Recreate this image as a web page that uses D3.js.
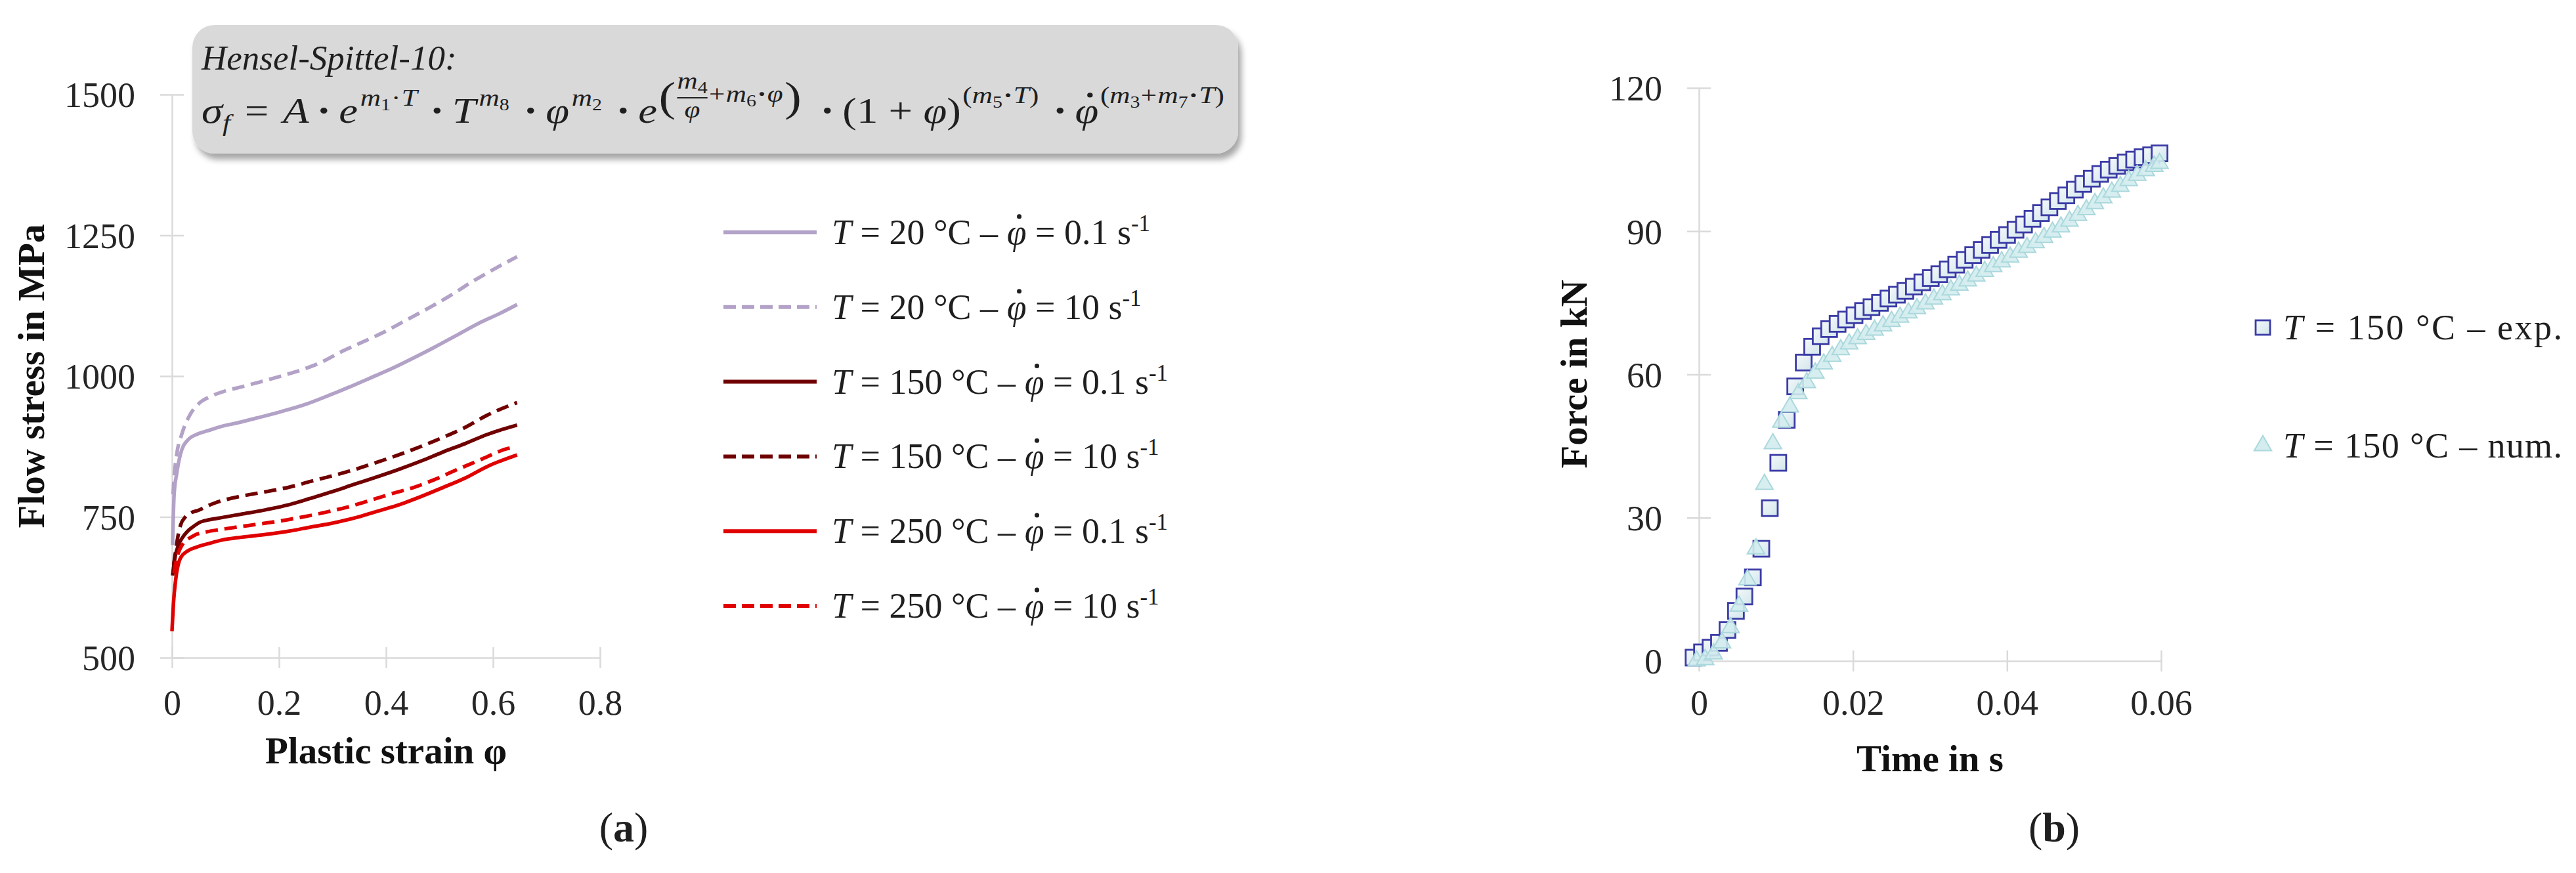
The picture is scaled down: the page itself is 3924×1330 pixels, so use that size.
<!DOCTYPE html>
<html>
<head>
<meta charset="utf-8">
<title>Hensel-Spittel flow curves and forming force</title>
<script src="https://d3js.org/d3.v7.min.js"></script>
<style>
  body { margin: 0; background: #fff; }
  svg { display: block; }
  text { font-family: "Liberation Serif", "Times New Roman", serif; fill: #1f1f1f; }
  .tick text { font-size: 54px; fill: #262626; }
  .axis-title { font-size: 57px; font-weight: bold; fill: #111; }
  .legend text { font-size: 54px; }
</style>
</head>
<body>
<svg width="3924" height="1330"></svg>
<script>
// --- (a) flow curves ---
const strainTicks = [0, 0.2, 0.4, 0.6, 0.8];
const stressTicks = [500, 750, 1000, 1250, 1500];
const legendTemps = ["20", "20", "150", "150", "250", "250"];
const legendRates = ["0.1", "10", "0.1", "10", "0.1", "10"];

// [plastic strain, flow stress in MPa]
const curve20slow = [[0.001,700],[0.004,790],[0.009,828],[0.016,862],[0.029,886],[0.05,898],[0.067,903],[0.09,910],[0.122,917],[0.16,926],[0.204,937],[0.25,950],[0.286,963],[0.33,980],[0.369,996],[0.41,1013],[0.451,1032],[0.49,1051],[0.533,1073],[0.58,1097],[0.61,1110],[0.645,1127]];
const curve20fast = [[0.002,790],[0.004,820],[0.009,862],[0.018,896],[0.034,932],[0.051,952],[0.07,963],[0.094,972],[0.13,981],[0.166,990],[0.2,999],[0.242,1011],[0.28,1025],[0.314,1042],[0.355,1060],[0.396,1078],[0.437,1099],[0.478,1120],[0.52,1143],[0.56,1167],[0.6,1189],[0.645,1212]];
const curve150slow = [[0.001,646],[0.006,680],[0.012,700],[0.02,714],[0.0285,724],[0.04,733],[0.051,740],[0.07,745],[0.094,749],[0.13,755],[0.177,763],[0.22,772],[0.259,783],[0.3,795],[0.341,808],[0.38,820],[0.423,834],[0.465,849],[0.506,865],[0.55,881],[0.588,896],[0.645,913]];
const curve150fast = [[0.003,665],[0.0066,688],[0.011,715],[0.0159,735],[0.025,750],[0.035,757],[0.05,762],[0.07,771],[0.094,779],[0.13,787],[0.177,795],[0.22,803],[0.259,813],[0.3,823],[0.341,834],[0.38,846],[0.423,860],[0.465,875],[0.506,891],[0.55,910],[0.588,930],[0.645,953]];
const curve250slow = [[0.0,547],[0.003,600],[0.0066,636],[0.0159,677],[0.03,690],[0.045,696],[0.07,703],[0.094,709],[0.13,714],[0.177,719],[0.22,725],[0.259,732],[0.3,739],[0.341,748],[0.38,759],[0.423,771],[0.465,786],[0.506,802],[0.55,820],[0.588,839],[0.645,860]];
const curve250fast = [[0.004,650],[0.008,672],[0.0176,698],[0.0395,716],[0.067,724],[0.094,728],[0.122,732],[0.16,737],[0.204,743],[0.245,750],[0.286,758],[0.33,768],[0.369,779],[0.41,791],[0.451,802],[0.49,816],[0.533,834],[0.58,853],[0.626,871],[0.64,874]];
const flowCurves = [curve20slow, curve20fast, curve150slow, curve150fast, curve250slow, curve250fast];

const curveColor = ["#b3a2c7", "#b3a2c7", "#700000", "#700000", "#e00000", "#e00000"];
const curveDash = [null, "19,10", null, "19,10", null, "19,10"];

// --- (b) force over time ---
const timeTicks = [0, 0.02, 0.04, 0.06];
const forceTicks = [0, 30, 60, 90, 120];
const timeExp = [-0.0007,0.0004,0.0015,0.0026,0.0037,0.0048,0.0059,0.0070,0.0081,0.0092,0.0103,0.0114,0.0125,0.0136,0.0147,0.0158,0.0169,0.0180,0.0191,0.0202,0.0213,0.0224,0.0235,0.0246,0.0257,0.0268,0.0279,0.0290,0.0301,0.0312,0.0323,0.0334,0.0345,0.0356,0.0367,0.0378,0.0389,0.0400,0.0411,0.0422,0.0433,0.0444,0.0455,0.0466,0.0477,0.0488,0.0499,0.0510,0.0521,0.0532,0.0543,0.0554,0.0565,0.0576,0.0587,0.0598];
const forceExp = [0.7,1.8,2.8,3.8,6.5,10.5,13.5,17.5,23.5,32.0,41.5,50.5,57.5,62.5,65.8,68.0,69.5,70.6,71.5,72.4,73.3,74.1,75.0,75.9,76.7,77.5,78.4,79.3,80.2,81.0,82.0,83.0,84.0,85.0,86.1,87.1,88.2,89.2,90.3,91.4,92.6,93.8,95.0,96.3,97.5,98.7,99.9,101.0,102.0,102.9,103.7,104.4,105.0,105.5,105.9,106.3];
const timeNum = [-0.0003,0.0008,0.0019,0.0030,0.0041,0.0052,0.0063,0.0074,0.0085,0.0096,0.0107,0.0118,0.0129,0.0140,0.0151,0.0162,0.0173,0.0184,0.0195,0.0206,0.0217,0.0228,0.0239,0.0250,0.0261,0.0272,0.0283,0.0294,0.0305,0.0316,0.0327,0.0338,0.0349,0.0360,0.0371,0.0382,0.0393,0.0404,0.0415,0.0426,0.0437,0.0448,0.0459,0.0470,0.0481,0.0492,0.0503,0.0514,0.0525,0.0536,0.0547,0.0558,0.0569,0.0580,0.0591,0.0598];
const forceNum = [0.0,0.3,1.5,3.8,7.0,11.5,17.0,23.5,37.0,45.5,50.0,53.2,56.0,58.3,60.3,62.2,63.8,65.2,66.4,67.5,68.4,69.3,70.2,71.1,72.0,72.9,73.8,74.8,75.8,76.7,77.7,78.7,79.6,80.6,81.6,82.6,83.6,84.6,85.6,86.6,87.6,88.7,89.8,90.9,92.1,93.3,94.5,95.8,97.0,98.2,99.4,100.6,101.7,102.7,103.6,104.2];

const svg = d3.select("svg");
svg.append("rect").attr("width", 3924).attr("height", 1330).attr("fill", "#fff");

const defs = svg.append("defs");
defs.append("filter").attr("id", "shadow").attr("x", "-5%").attr("y", "-20%").attr("width", "115%").attr("height", "150%")
  .append("feDropShadow").attr("dx", 5).attr("dy", 9).attr("stdDeviation", 5)
  .attr("flood-color", "#000").attr("flood-opacity", 0.35);
const sqGrad = defs.append("linearGradient").attr("id", "sqfill").attr("x1", 0).attr("y1", 0).attr("x2", 1).attr("y2", 1);
sqGrad.append("stop").attr("offset", "0%").attr("stop-color", "#f4f8fa");
sqGrad.append("stop").attr("offset", "100%").attr("stop-color", "#d2e6ec");

// scales
const xA = d3.scaleLinear().domain([0, 0.8]).range([262, 914]);
const yA = d3.scaleLinear().domain([500, 1500]).range([1002, 144]);
const xB = d3.scaleLinear().domain([0, 0.06]).range([2588, 3292]);
const yB = d3.scaleLinear().domain([0, 120]).range([1007, 134]);

function drawAxes(x, y, xTicks, yTicks, xFmt, labelGap) {
  const gx = svg.append("g").attr("transform", `translate(0,${y.range()[0]})`)
    .call(d3.axisBottom(x).tickValues(xTicks).tickFormat(xFmt).tickSizeOuter(0));
  const gy = svg.append("g").attr("transform", `translate(${x.range()[0]},0)`)
    .call(d3.axisLeft(y).tickValues(yTicks).tickFormat(d3.format("d")).tickSizeOuter(0));
  [gx, gy].forEach(g => {
    g.select(".domain").attr("stroke", "#dadada").attr("stroke-width", 2.5);
    g.selectAll(".tick line").attr("stroke", "#dadada").attr("stroke-width", 2.5);
  });
  gx.selectAll(".tick line").attr("y1", -16).attr("y2", 16);
  gx.selectAll(".tick text").attr("y", labelGap).attr("dy", "0.35em");
  gy.selectAll(".tick line").attr("x1", -18).attr("x2", 18);
  gy.selectAll(".tick text").attr("x", -56).attr("dy", "0.35em");
}

// dot accent over a phi (φ̇), drawn as a small circle
function phiDot(g, cx, baseline, size) {
  g.append("circle").attr("cx", cx).attr("cy", baseline - size * 0.78).attr("r", size * 0.065).attr("fill", "#1f1f1f");
}

// ---------- (a) ----------
drawAxes(xA, yA, strainTicks, stressTicks, d => d === 0 ? "0" : d3.format(".1f")(d), 68);

const lineA = d3.line().x(d => xA(d[0])).y(d => yA(d[1])).curve(d3.curveMonotoneX);
svg.append("g").selectAll("path").data(flowCurves).join("path")
  .attr("d", lineA)
  .attr("fill", "none")
  .attr("stroke", (d, i) => curveColor[i])
  .attr("stroke-width", 5.5)
  .attr("stroke-dasharray", (d, i) => curveDash[i]);

svg.append("text").attr("class", "axis-title")
  .attr("transform", "translate(47,573) rotate(-90)")
  .attr("text-anchor", "middle").attr("dy", "0.35em").text("Flow stress in MPa");
svg.append("text").attr("class", "axis-title")
  .attr("x", 588).attr("y", 1163).attr("text-anchor", "middle").text("Plastic strain φ");

// legend (a)
const legA = svg.append("g").attr("class", "legend");
legendTemps.forEach((temp, i) => {
  const cy = 354 + i * 113.8;
  legA.append("line").attr("x1", 1102).attr("x2", 1244).attr("y1", cy).attr("y2", cy)
    .attr("stroke", curveColor[i]).attr("stroke-width", 6)
    .attr("stroke-dasharray", curveDash[i] ? "19,9" : null);
  const t = legA.append("text").attr("x", 1267).attr("y", cy + 18);
  t.append("tspan").style("font-style", "italic").text("T");
  t.append("tspan").text(` = ${temp} °C – `);
  t.append("tspan").style("font-style", "italic").text("φ");
  t.append("tspan").text(` = ${legendRates[i]} s`);
  t.append("tspan").attr("dy", -20).style("font-size", "35px").text("-1");
  const k = t.text().indexOf("φ");
  const p0 = t.node().getStartPositionOfChar(k), p1 = t.node().getEndPositionOfChar(k);
  phiDot(legA, (p0.x + p1.x) / 2 + 4, cy + 18, 54);
});

// formula box
svg.append("rect").attr("x", 293).attr("y", 38).attr("width", 1593).attr("height", 196)
  .attr("rx", 34).attr("fill", "#d9d9d9").attr("filter", "url(#shadow)");
svg.append("text").attr("x", 307).attr("y", 106).style("font-size", "53px").style("font-style", "italic")
  .text("Hensel-Spittel-10:");

function formula(g, x0, base) {
  let x = x0;
  const M = 54, S = 36, SS = 25;
  const put = (str, size, dy, it, gap, bold) => {
    const t = g.append("text").attr("x", x).attr("y", base + dy)
      .style("font-size", size + "px").style("font-style", it ? "italic" : "normal")
      .style("font-weight", bold ? "bold" : "normal").style("white-space", "pre").text(str);
    const w = t.node().getComputedTextLength();
    x += w + (gap || 0);
    return { t, w, x0: x - w - (gap || 0) };
  };
  const dot = (gapL, gapR) => { x += gapL; put("·", M, 0, 0, gapR, true); };
  put("σ", M, 0, 1, 0); put("f", S, 12, 1, 18);
  put("=", M, 0, 0, 18);
  put("A", M, 0, 1, 0); dot(10, 10);
  put("e", M, 0, 1, 3); put("m", S, -26, 1, 0); put("1", SS, -19, 0, 1); put("·", S, -26, 0, 1); put("T", S, -26, 1, 8);
  dot(8, 10);
  put("T", M, 0, 1, 4); put("m", S, -26, 1, 0); put("8", SS, -19, 0, 10);
  dot(8, 10);
  put("φ", M, 0, 1, 3); put("m", S, -26, 1, 0); put("2", SS, -19, 0, 10);
  dot(8, 10);
  put("e", M, 0, 1, 2);
  put("(", 64, -18, 0, 2);
  const fx = x;
  put("m", S, -52, 1, 0); put("4", SS, -45, 0, 0);
  const fw = x - fx;
  x = fx;
  const den = put("φ", S, -8, 1, 0);
  den.t.attr("x", fx + (fw - den.w) / 2);
  g.append("line").attr("x1", fx).attr("x2", fx + fw).attr("y1", base - 38).attr("y2", base - 38)
    .attr("stroke", "#1f1f1f").attr("stroke-width", 2);
  x = fx + fw + 2;
  put("+", S, -32, 0, 1); put("m", S, -32, 1, 0); put("6", SS, -25, 0, 1); put("·", S, -32, 0, 1, true); put("φ", S, -32, 1, 2);
  put(")", 64, -18, 0, 16);
  dot(8, 10);
  put("(1 + ", M, 0, 0, 0); put("φ", M, 0, 1, 0); put(")", M, 0, 0, 2);
  put("(", S, -30, 0, 0); put("m", S, -30, 1, 0); put("5", SS, -23, 0, 1); put("·", S, -30, 0, 1, true); put("T", S, -30, 1, 0); put(")", S, -30, 0, 10);
  dot(8, 10);
  const ph = put("φ", M, 0, 1, 2);
  phiDot(g, ph.x0 + ph.w / 2 + 4, base, M);
  put("(", S, -30, 0, 0); put("m", S, -30, 1, 0); put("3", SS, -23, 0, 1); put("+", S, -30, 0, 1);
  put("m", S, -30, 1, 0); put("7", SS, -23, 0, 1); put("·", S, -30, 0, 1, true); put("T", S, -30, 1, 0); put(")", S, -30, 0, 0);
  return x - x0;
}
const fg = svg.append("g");
const fW = formula(fg, 307, 187);
const fk = (1865 - 307) / fW;
fg.attr("transform", `translate(307,0) scale(${fk},1) translate(-307,0)`);

// ---------- (b) ----------
drawAxes(xB, yB, timeTicks, forceTicks, d => d === 0 ? "0" : d3.format(".2f")(d), 63);

const expPts = timeExp.map((t, i) => [t, forceExp[i]]);
const numPts = timeNum.map((t, i) => [t, forceNum[i]]);
const sq = 24;
svg.append("g").selectAll("rect").data(expPts).join("rect")
  .attr("x", d => xB(d[0]) - sq / 2).attr("y", d => yB(d[1]) - sq / 2)
  .attr("width", sq).attr("height", sq)
  .attr("fill", "url(#sqfill)").attr("stroke", "#3b3ba6").attr("stroke-width", 2.8);
const tri = d3.symbol(d3.symbolTriangle).size(300);
svg.append("g").selectAll("path").data(numPts).join("path")
  .attr("transform", d => `translate(${xB(d[0])},${yB(d[1])})`)
  .attr("d", tri)
  .attr("fill", "#d3ecee").attr("fill-opacity", 0.9)
  .attr("stroke", "#aad8dc").attr("stroke-width", 2);

svg.append("text").attr("class", "axis-title")
  .attr("transform", "translate(2397,570) rotate(-90)")
  .attr("text-anchor", "middle").attr("dy", "0.35em").text("Force in kN");
svg.append("text").attr("class", "axis-title")
  .attr("x", 2940).attr("y", 1175).attr("text-anchor", "middle").text("Time in s");

// legend (b)
const legB = svg.append("g").attr("class", "legend");
const legBItems = ["exp.", "num."];
legBItems.forEach((lab, i) => {
  const cy = 499 + i * 180;
  if (i === 0) {
    legB.append("rect").attr("x", 3447 - 11).attr("y", cy - 11).attr("width", 22).attr("height", 22)
      .attr("fill", "url(#sqfill)").attr("stroke", "#3b3ba6").attr("stroke-width", 2.8);
  } else {
    legB.append("path").attr("transform", `translate(3447,${cy})`).attr("d", tri)
      .attr("fill", "#d3ecee").attr("stroke", "#aad8dc").attr("stroke-width", 2);
  }
  const t = legB.append("text").attr("x", 3478).attr("y", cy + 18)
    .attr("textLength", 425).attr("lengthAdjust", "spacing");
  t.append("tspan").style("font-style", "italic").text("T");
  t.append("tspan").text(` = 150 °C – ${lab}`);
});

// panel letters
[["a", 950], ["b", 3129]].forEach(([c, cx]) => {
  const t = svg.append("text").attr("x", cx).attr("y", 1282).attr("text-anchor", "middle").style("font-size", "64px");
  t.append("tspan").text("(");
  t.append("tspan").style("font-weight", "bold").text(c);
  t.append("tspan").text(")");
});
</script>
</body>
</html>
